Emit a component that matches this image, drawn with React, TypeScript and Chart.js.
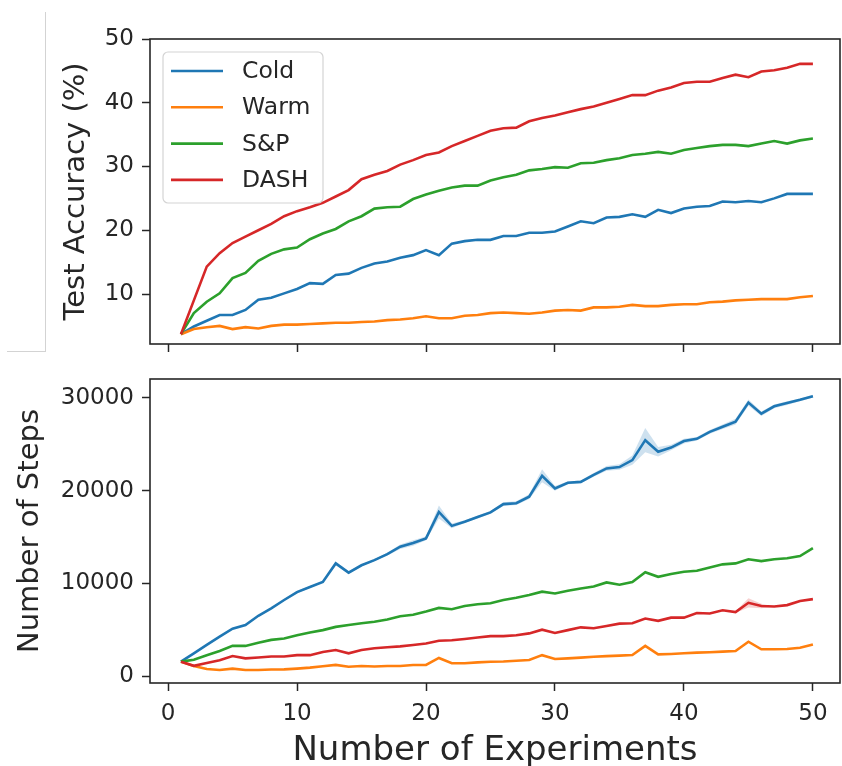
import React, { useEffect, useRef } from "react";
import { Chart, registerables } from "chart.js";

Chart.register(...registerables);

// ---------- data ----------
const experiments = [
  1, 2, 3, 4, 5, 6, 7, 8, 9, 10, 11, 12, 13, 14, 15, 16, 17, 18, 19, 20, 21, 22, 23, 24, 25,
  26, 27, 28, 29, 30, 31, 32, 33, 34, 35, 36, 37, 38, 39, 40, 41, 42, 43, 44, 45, 46, 47, 48, 49, 50,
];

const seriesNames = ["Cold", "Warm", "S&P", "DASH"];
const seriesColors = ["#1f77b4", "#ff7f0e", "#2ca02c", "#d62728"];
const bandColors = ["rgba(31,119,180,0.22)", "rgba(255,127,14,0.22)", "rgba(44,160,44,0.22)", "rgba(214,39,40,0.22)"];

// Test accuracy (%)
const accCold = [
  3.7, 4.9, 5.8, 6.7, 6.7, 7.5, 9.1, 9.4, 10.1, 10.8,
  11.7, 11.6, 13.0, 13.2, 14.1, 14.8, 15.1, 15.7, 16.1, 16.9,
  16.1, 17.9, 18.3, 18.5, 18.5, 19.1, 19.1, 19.6, 19.6, 19.8,
  20.6, 21.4, 21.1, 22.0, 22.1, 22.5, 22.1, 23.2, 22.7, 23.4,
  23.7, 23.8, 24.5, 24.4, 24.6, 24.4, 25.0, 25.7, 25.7, 25.7,
];
const accWarm = [
  3.7, 4.5, 4.8, 5.0, 4.5, 4.8, 4.6, 5.0, 5.2, 5.2,
  5.3, 5.4, 5.5, 5.5, 5.6, 5.7, 5.9, 6.0, 6.2, 6.5,
  6.2, 6.2, 6.6, 6.7, 7.0, 7.1, 7.0, 6.9, 7.1, 7.4,
  7.5, 7.4, 7.9, 7.9, 8.0, 8.3, 8.1, 8.1, 8.3, 8.4,
  8.4, 8.7, 8.8, 9.0, 9.1, 9.2, 9.2, 9.2, 9.5, 9.7,
];
const accSP = [
  3.7, 7.0, 8.8, 10.1, 12.5, 13.3, 15.2, 16.3, 17.0, 17.3,
  18.6, 19.5, 20.2, 21.4, 22.2, 23.4, 23.6, 23.7, 24.9, 25.6,
  26.2, 26.7, 27.0, 27.0, 27.8, 28.3, 28.7, 29.4, 29.6, 29.9,
  29.8, 30.5, 30.6, 31.0, 31.3, 31.8, 32.0, 32.3, 32.0, 32.6,
  32.9, 33.2, 33.4, 33.4, 33.2, 33.6, 34.0, 33.6, 34.1, 34.4,
];
const accDASH = [
  3.7, 9.0, 14.3, 16.4, 18.0, 19.0, 20.0, 21.0, 22.2, 23.0,
  23.6, 24.3, 25.3, 26.3, 28.0, 28.7, 29.3, 30.3, 31.0, 31.8,
  32.2, 33.2, 34.0, 34.8, 35.6, 36.0, 36.1, 37.1, 37.6, 38.0,
  38.5, 39.0, 39.4, 40.0, 40.6, 41.2, 41.2, 41.9, 42.4, 43.1,
  43.3, 43.3, 43.9, 44.4, 44.0, 44.9, 45.1, 45.5, 46.1, 46.1,
];

// Number of steps
const stepsCold = [
  1550, 2450, 3350, 4250, 5100, 5500, 6500, 7300, 8200, 9050,
  9600, 10150, 12150, 11150, 11950, 12500, 13150, 13950, 14350, 14850,
  17700, 16200, 16650, 17150, 17650, 18550, 18650, 19350, 21600, 20250,
  20850, 20950, 21700, 22400, 22550, 23300, 25450, 24200, 24650, 25350,
  25600, 26350, 26900, 27450, 29500, 28300, 29100, 29450, 29800, 30200,
];
const stepsWarm = [
  1550, 1080, 750, 650, 800, 650, 650, 700, 720, 800,
  900, 1050, 1200, 1000, 1080, 1020, 1080, 1080, 1180, 1200,
  1950, 1370, 1380, 1470, 1540, 1560, 1650, 1720, 2250, 1830,
  1900, 1980, 2080, 2150, 2200, 2270, 3250, 2340, 2380, 2450,
  2520, 2560, 2630, 2700, 3700, 2880, 2880, 2920, 3050, 3400,
];
const stepsSP = [
  1550, 1750, 2250, 2700, 3250, 3250, 3600, 3900, 4050, 4400,
  4700, 4950, 5300, 5500, 5700, 5850, 6100, 6450, 6600, 6950,
  7350, 7200, 7550, 7750, 7850, 8200, 8450, 8750, 9100, 8900,
  9200, 9450, 9650, 10100, 9850, 10150, 11200, 10700, 11000, 11250,
  11350, 11700, 12050, 12150, 12600, 12400, 12600, 12700, 12950, 13800,
];
const stepsDASH = [
  1550, 1100, 1400, 1700, 2150, 1900, 2000, 2100, 2100, 2250,
  2250, 2600, 2800, 2450, 2800, 3000, 3100, 3200, 3350, 3500,
  3800, 3850, 4000, 4150, 4300, 4300, 4400, 4600, 5000, 4650,
  4950, 5250, 5150, 5400, 5650, 5700, 6200, 5950, 6300, 6300,
  6800, 6750, 7100, 6900, 7900, 7550, 7500, 7650, 8100, 8300,
];

// half-width of the shaded spread around the step curves
const stepsColdSpread = [
  0, 0, 0, 0, 0, 0, 0, 0, 100, 150,
  100, 100, 200, 150, 100, 100, 150, 250, 300, 200,
  700, 250, 150, 150, 150, 200, 200, 250, 700, 250,
  150, 150, 200, 250, 300, 500, 1300, 500, 300, 250,
  200, 200, 250, 300, 350, 250, 200, 200, 150, 150,
];
const stepsDashSpread = [
  0, 0, 0, 0, 0, 0, 0, 0, 0, 0,
  0, 0, 0, 0, 0, 0, 0, 0, 0, 0,
  0, 0, 0, 0, 0, 0, 0, 0, 0, 0,
  0, 0, 0, 0, 0, 0, 0, 0, 0, 0,
  0, 0, 0, 100, 500, 250, 0, 0, 0, 0,
];

const xTicks = [0, 10, 20, 30, 40, 50];
const accTicks = [10, 20, 30, 40, 50];
const stepsTicks = [0, 10000, 20000, 30000];

const xLabel = "Number of Experiments";
const accLabel = "Test Accuracy (%)";
const stepsLabel = "Number of Steps";

// ---------- styling ----------
const FONT = "'DejaVu Sans', 'Liberation Sans', sans-serif";
const INK = "#262626";

function lineDatasets(series: number[][]) {
  return seriesNames.map((name, i) => ({
    label: name,
    data: experiments.map((x, k) => ({ x, y: series[i][k] })),
    borderColor: seriesColors[i],
    backgroundColor: seriesColors[i],
    borderWidth: 2.6,
    pointRadius: 0,
    pointHoverRadius: 0,
    tension: 0,
    fill: false,
    order: seriesNames.length - i,
    isSeries: true,
  }));
}

function bandDatasets(seriesIndex: number, values: number[], spread: number[]) {
  const upper = {
    label: seriesNames[seriesIndex] + " upper",
    data: experiments.map((x, k) => ({ x, y: values[k] + spread[k] })),
    borderColor: "rgba(0,0,0,0)",
    borderWidth: 0,
    pointRadius: 0,
    fill: false,
    order: 10,
    isSeries: false,
  };
  const lower = {
    label: seriesNames[seriesIndex] + " lower",
    data: experiments.map((x, k) => ({ x, y: values[k] - spread[k] })),
    borderColor: "rgba(0,0,0,0)",
    backgroundColor: bandColors[seriesIndex],
    borderWidth: 0,
    pointRadius: 0,
    fill: "-1",
    order: 10,
    isSeries: false,
  };
  return [upper, lower];
}

const framePlugin = {
  id: "mplFrame",
  afterDatasetsDraw(chart: any) {
    const { ctx, chartArea: a } = chart;
    ctx.save();
    ctx.strokeStyle = INK;
    ctx.lineWidth = 1.6;
    ctx.strokeRect(a.left, a.top, a.right - a.left, a.bottom - a.top);
    ctx.restore();
  },
};

const legendPlugin = {
  id: "mplLegend",
  afterDraw(chart: any) {
    const { ctx, chartArea: a } = chart;
    const x0 = a.left + 13;
    const y0 = a.top + 13;
    const w = 160;
    const h = 151;
    ctx.save();
    ctx.beginPath();
    if (ctx.roundRect) ctx.roundRect(x0, y0, w, h, 5);
    else ctx.rect(x0, y0, w, h);
    ctx.fillStyle = "rgba(255,255,255,0.8)";
    ctx.fill();
    ctx.strokeStyle = "#d4d4d4";
    ctx.lineWidth = 1.2;
    ctx.stroke();
    const entries = chart.data.datasets.filter((ds: any) => ds.isSeries);
    entries.forEach((ds: any, i: number) => {
      const cy = y0 + 19 + i * 36.3;
      ctx.beginPath();
      ctx.moveTo(x0 + 8, cy);
      ctx.lineTo(x0 + 60, cy);
      ctx.strokeStyle = ds.borderColor;
      ctx.lineWidth = 2.6;
      ctx.stroke();
      ctx.fillStyle = INK;
      ctx.font = `23.5px ${FONT}`;
      ctx.textAlign = "left";
      ctx.textBaseline = "middle";
      ctx.fillText(ds.label, x0 + 79, cy + 1);
    });
    ctx.restore();
  },
};

function tickGrid() {
  return {
    display: true,
    drawOnChartArea: false,
    drawTicks: true,
    tickLength: 8,
    tickWidth: 1.5,
    tickColor: INK,
  };
}

function xScale(showLabels: boolean, height: number) {
  return {
    type: "linear" as const,
    min: -1.4,
    max: 52.1,
    afterBuildTicks: (s: any) => {
      s.ticks = xTicks.map((v) => ({ value: v }));
    },
    afterFit: (s: any) => {
      s.height = height;
      s.paddingLeft = 0;
      s.paddingRight = 0;
    },
    border: { display: false },
    grid: tickGrid(),
    ticks: {
      display: showLabels,
      color: INK,
      padding: 9,
      maxRotation: 0,
      font: { family: FONT, size: 23 },
    },
    title: {
      display: showLabels,
      text: xLabel,
      color: INK,
      font: { family: FONT, size: 34 },
      padding: { top: 0, bottom: -6 },
    },
  };
}

function yScale(min: number, max: number, ticks: number[], label: string, titleOffset: number) {
  return {
    type: "linear" as const,
    min,
    max,
    afterBuildTicks: (s: any) => {
      s.ticks = ticks.map((v) => ({ value: v }));
    },
    afterFit: (s: any) => {
      s.width = 150;
      s.paddingTop = 0;
      s.paddingBottom = 0;
    },
    border: { display: false },
    grid: tickGrid(),
    ticks: {
      color: INK,
      padding: 8,
      font: { family: FONT, size: 23 },
      callback: (v: any) => String(v),
    },
    title: {
      display: true,
      text: label,
      color: INK,
      font: { family: FONT, size: 29 },
      padding: { top: titleOffset, bottom: 0 },
    },
  };
}

function commonOptions() {
  return {
    responsive: false,
    animation: false as const,
    devicePixelRatio: 1,
    events: [] as any[],
    plugins: { legend: { display: false }, tooltip: { enabled: false }, filler: { propagate: false } },
  };
}

export default function App() {
  const topRef = useRef<HTMLCanvasElement | null>(null);
  const bottomRef = useRef<HTMLCanvasElement | null>(null);

  useEffect(() => {
    if (!topRef.current || !bottomRef.current) return;
    const top = new Chart(topRef.current, {
      type: "line",
      data: { datasets: lineDatasets([accCold, accWarm, accSP, accDASH]) as any },
      options: {
        ...commonOptions(),
        layout: { padding: { top: 39, right: 2, left: 0, bottom: 0 } },
        scales: {
          x: xScale(false, 18),
          y: yScale(2.16, 50, accTicks, accLabel, 58.6),
        },
      } as any,
      plugins: [framePlugin, legendPlugin],
    });
    const bottom = new Chart(bottomRef.current, {
      type: "line",
      data: {
        datasets: [
          ...bandDatasets(0, stepsCold, stepsColdSpread),
          ...bandDatasets(3, stepsDASH, stepsDashSpread),
          ...lineDatasets([stepsCold, stepsWarm, stepsSP, stepsDASH]),
        ] as any,
      },
      options: {
        ...commonOptions(),
        layout: { padding: { top: 17, right: 2, left: 0, bottom: 0 } },
        scales: {
          x: xScale(true, 83),
          y: yScale(-755, 32050, stepsTicks, stepsLabel, 12.6),
        },
      } as any,
      plugins: [framePlugin],
    });
    return () => {
      top.destroy();
      bottom.destroy();
    };
  }, []);

  return (
    <div style={{ position: "absolute", left: 0, top: 0, width: 842, height: 766, background: "#fff", overflow: "hidden" }}>
      <div
        style={{
          position: "absolute",
          left: 7,
          top: 12,
          width: 38,
          height: 339,
          borderRight: "1px solid #d3d3d3",
          borderBottom: "1px solid #d3d3d3",
        }}
      />
      <canvas
        ref={topRef}
        width={842}
        height={362}
        style={{ position: "absolute", left: 0, top: 0, width: 842, height: 362 }}
      />
      <canvas
        ref={bottomRef}
        width={842}
        height={404}
        style={{ position: "absolute", left: 0, top: 362, width: 842, height: 404 }}
      />
    </div>
  );
}
